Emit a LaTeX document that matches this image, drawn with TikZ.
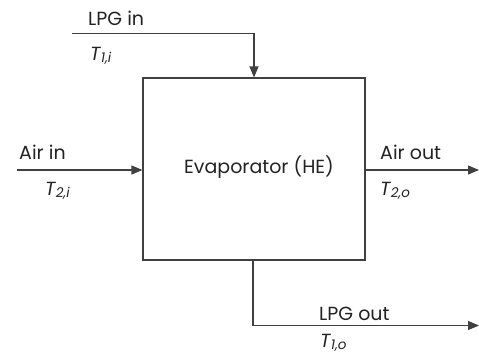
\documentclass[tikz,border=0pt]{standalone}
\usepackage{fontspec}
\setmainfont{Poppins}
\usetikzlibrary{arrows.meta}
\definecolor{ln}{HTML}{404040}
\definecolor{tx}{HTML}{222222}
\tikzset{
  conn/.style={draw=ln, line width=1.1pt},
  arr/.style={conn, -{Triangle[length=11pt,width=9pt]}},
  lbl/.style={text=tx, font=\fontsize{19}{22}\selectfont, inner sep=0pt, anchor=base west},
  box/.style={draw=ln, line width=1.1pt, minimum width=222pt, minimum height=182pt, inner sep=0pt}
}
\newcommand{\Tsub}[1]{\textit{T\kern0.5pt\raisebox{-0.25ex}{\fontsize{13.5}{15}\selectfont #1}}}
\begin{document}
\begin{tikzpicture}[x=1pt,y=-1pt]
\useasboundingbox (0,0) rectangle (479,356);
\node[box] (he) at (254,169) {};
\node[lbl, anchor=base] (hetxt) at (259,173) {Evaporator (HE)};
% LPG in
\coordinate (lpgin) at (72,33.5);
\coordinate (lpgbend) at (254,33.5);
\draw[arr] (lpgin) -- (lpgbend) -- (he.north);
\node[lbl] (lpgintxt) at (88,25) {LPG in};
\node[lbl] (t1i) at (90,60) {\Tsub{1,i}};
% Air in
\coordinate (airin) at (17,170);
\draw[arr] (airin) -- (he.west |- airin);
\node[lbl] (airintxt) at (19,159) {Air in};
\node[lbl] (t2i) at (45,195) {\Tsub{2,i}};
% Air out
\coordinate (airout) at (479,170);
\draw[arr] (he.east |- airout) -- (airout);
\node[lbl] (airouttxt) at (380,159) {Air out};
\node[lbl] (t2o) at (380,195) {\Tsub{2,o}};
% LPG out
\coordinate (lpgbend2) at (253,325.5);
\coordinate (lpgout) at (479,325.5);
\draw[arr] (he.south -| lpgbend2) -- (lpgbend2) -- (lpgout);
\node[lbl] (lpgouttxt) at (319,320) {LPG out};
\node[lbl] (t1o) at (320,347) {\Tsub{1,o}};
\end{tikzpicture}
\end{document}
